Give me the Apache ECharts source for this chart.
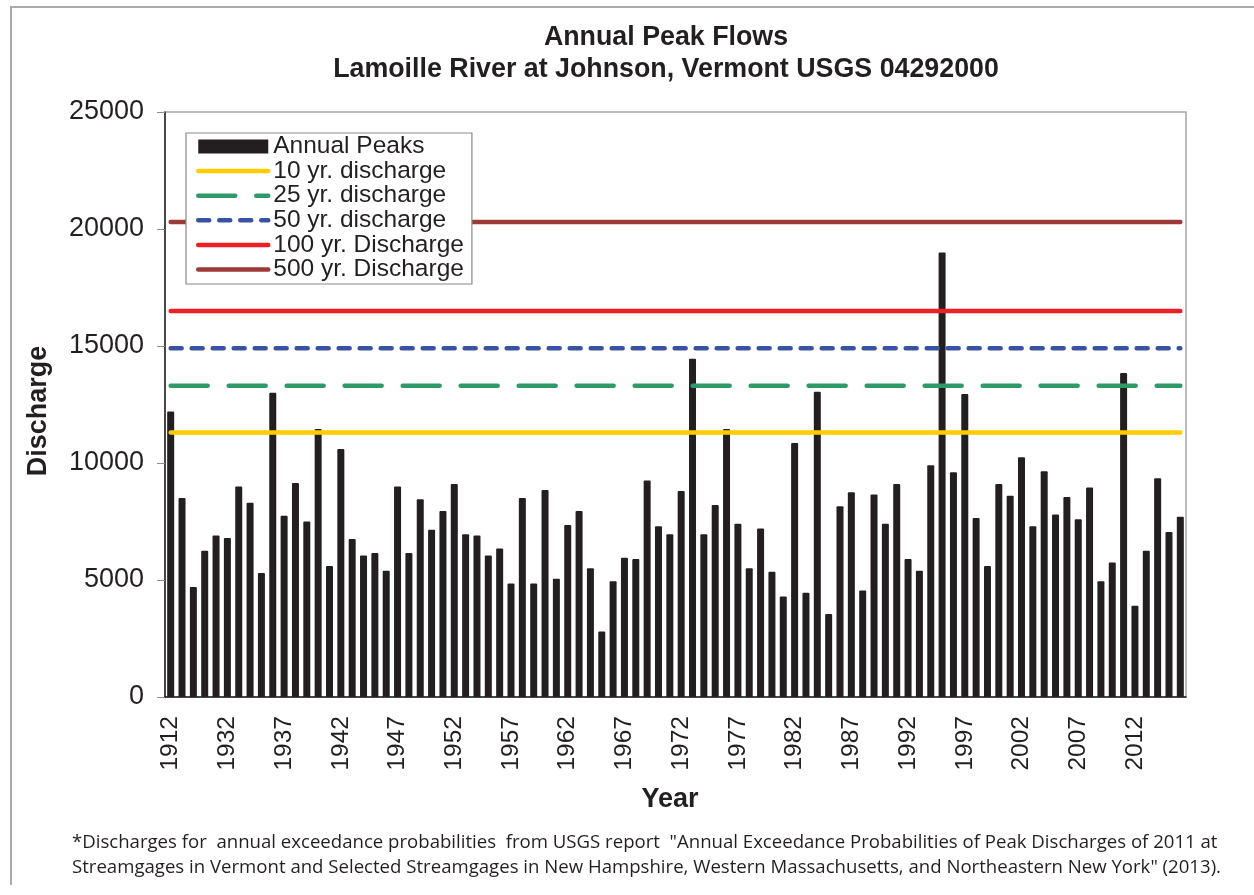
<!DOCTYPE html>
<html>
<head>
<meta charset="utf-8">
<title>Annual Peak Flows</title>
<script src="https://cdn.jsdelivr.net/npm/echarts@6/dist/echarts.min.js"></script>
<style>
  html, body { margin: 0; padding: 0; background: #fff; }
  #main { width: 1254px; height: 895px; }
</style>
</head>
<body>
<div id="main"></div>
<script>
// 年份（1912 后从 1928 连续）
const years = [
  '1912', '1928', '1929', '1930', '1931', '1932', '1933', '1934', '1935', '1936',
  '1937', '1938', '1939', '1940', '1941', '1942', '1943', '1944', '1945', '1946',
  '1947', '1948', '1949', '1950', '1951', '1952', '1953', '1954', '1955', '1956',
  '1957', '1958', '1959', '1960', '1961', '1962', '1963', '1964', '1965', '1966',
  '1967', '1968', '1969', '1970', '1971', '1972', '1973', '1974', '1975', '1976',
  '1977', '1978', '1979', '1980', '1981', '1982', '1983', '1984', '1985', '1986',
  '1987', '1988', '1989', '1990', '1991', '1992', '1993', '1994', '1995', '1996',
  '1997', '1998', '1999', '2000', '2001', '2002', '2003', '2004', '2005', '2006',
  '2007', '2008', '2009', '2010', '2011', '2012', '2013', '2014', '2015', '2016'
]

// 年最大流量
const annualPeaks = [
  12200, 8500, 4700, 6250, 6900, 6800, 9000, 8300, 5300, 13000,
  7750, 9150, 7500, 11450, 5600, 10600, 6750, 6050, 6150, 5400,
  9000, 6150, 8450, 7150, 7950, 9100, 6950, 6900, 6050, 6350,
  4850, 8500, 4850, 8850, 5050, 7350, 7950, 5500, 2800, 4950,
  5950, 5900, 9250, 7300, 6950, 8800, 14450, 6950, 8200, 11450,
  7400, 5500, 7200, 5350, 4300, 10850, 4450, 13050, 3550, 8150,
  8750, 4550, 8650, 7400, 9100, 5900, 5400, 9900, 19000, 9600,
  12950, 7650, 5600, 9100, 8600, 10250, 7300, 9650, 7800, 8550,
  7600, 8950, 4950, 5750, 13850, 3900, 6250, 9350, 7050, 7700
]

// 重现期流量
const levelNames = ['10 yr. discharge', '25 yr. discharge', '50 yr. discharge', '100 yr. Discharge', '500 yr. Discharge']
const levelValues = [11300, 13300, 14900, 16500, 20300]
const levelColors = ['#ffcc00', '#2f9a68', '#3953a4', '#ed1f26', '#9b3a37']
const levelDash = ['solid', [37, 21], [11, 10], 'solid', 'solid']

const yTicks = [0, 5000, 10000, 15000, 20000, 25000]

const font = '"Liberation Sans", Arial, sans-serif'
const textColor = '#231f20'

const levelSeries = levelNames.map((name, i) => ({
  name: name,
  type: 'line',
  data: years.map(() => levelValues[i]),
  symbol: 'none',
  showSymbol: false,
  silent: true,
  lineStyle: {
    color: levelColors[i],
    width: 4.5,
    type: levelDash[i],
    cap: 'round'
  },
  itemStyle: { color: levelColors[i] }
}))

const chart = echarts.init(document.getElementById('main'))

const option = {
  backgroundColor: '#ffffff',
  animation: false,
  title: {
    text: 'Annual Peak Flows\nLamoille River at Johnson, Vermont USGS 04292000',
    left: 661,
    top: 17,
    textAlign: 'center',
    textStyle: {
      fontFamily: font,
      fontSize: 26.8,
      fontWeight: 'bold',
      color: textColor,
      lineHeight: 32
    }
  },
  legend: {
    orient: 'vertical',
    left: 186,
    top: 133,
    padding: [1, 8, 2, 10],
    itemWidth: 70,
    itemHeight: 14,
    itemGap: -0.4,
    backgroundColor: '#ffffff',
    borderColor: '#8a8a8a',
    borderWidth: 1.2,
    selectedMode: false,
    itemStyle: { opacity: 0 },
    lineStyle: { width: 4.5, cap: 'round' },
    data: [{ name: 'Annual Peaks', icon: 'rect', itemStyle: { opacity: 1, color: '#231f20' } }].concat(levelNames),
    textStyle: {
      fontFamily: font,
      fontSize: 24.5,
      lineHeight: 23,
      color: textColor
    }
  },
  grid: {
    left: 165,
    right: 68,
    top: 112,
    bottom: 198,
    show: true,
    borderColor: '#a6a6a6',
    borderWidth: 1.5
  },
  xAxis: {
    type: 'category',
    data: years,
    axisLine: { lineStyle: { color: textColor, width: 1.5 } },
    axisTick: {
      interval: 0,
      length: 8,
      lineStyle: { color: '#8c8c8c' }
    },
    axisLabel: {
      interval: 4,
      rotate: 90,
      margin: 19,
      fontFamily: font,
      fontSize: 24.5,
      color: textColor
    },
    splitLine: { show: false }
  },
  yAxis: {
    type: 'value',
    min: yTicks[0],
    max: yTicks[yTicks.length - 1],
    interval: 5000,
    axisLine: { show: true, lineStyle: { color: textColor, width: 1.5 } },
    axisTick: { show: true, length: 8, lineStyle: { color: '#8c8c8c' } },
    axisLabel: {
      margin: 21,
      fontFamily: font,
      fontSize: 27,
      color: textColor,
      formatter: (v) => String(v)
    },
    splitLine: { show: false }
  },
  graphic: [
    {
      type: 'text',
      x: 39,
      y: 411,
      rotation: Math.PI / 2,
      style: {
        text: 'Discharge',
        fontFamily: font,
        fontSize: 27,
        fontWeight: 'bold',
        fill: textColor,
        align: 'center',
        verticalAlign: 'middle'
      }
    },
    {
      type: 'text',
      x: 670,
      y: 800,
      style: {
        text: 'Year',
        fontFamily: font,
        fontSize: 27,
        fontWeight: 'bold',
        fill: textColor,
        align: 'center',
        verticalAlign: 'middle'
      }
    },
    {
      type: 'text',
      x: 72,
      y: 830,
      style: {
        text: '*Discharges for  annual exceedance probabilities  from USGS report  "Annual Exceedance Probabilities of Peak Discharges of 2011 at\nStreamgages in Vermont and Selected Streamgages in New Hampshire, Western Massachusetts, and Northeastern New York" (2013).',
        fontFamily: '"Open Sans", "Noto Sans", sans-serif',
        fontSize: 18.6,
        lineHeight: 25,
        fill: textColor,
        align: 'left',
        verticalAlign: 'top'
      }
    },
    {
      type: 'polyline',
      shape: { points: [[11, 885], [11, 7], [1254, 7]] },
      style: { stroke: '#ababab', lineWidth: 2, fill: null }
    }
  ],
  series: [
    {
      name: 'Annual Peaks',
      type: 'bar',
      data: annualPeaks,
      barWidth: 7,
      silent: true,
      itemStyle: { color: '#231f20', borderRadius: [1, 1, 0, 0] }
    }
  ].concat(levelSeries)
}

chart.setOption(option)
</script>
</body>
</html>
